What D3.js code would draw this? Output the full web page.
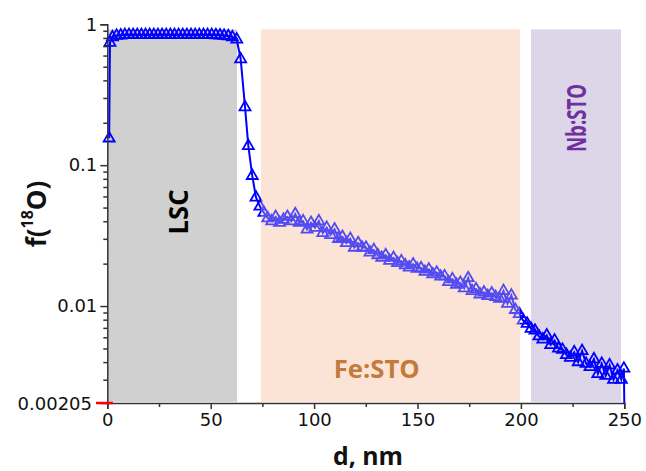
<!DOCTYPE html>
<html><head><meta charset="utf-8">
<script src="https://cdn.jsdelivr.net/npm/d3@7"></script>
<style>body{margin:0;background:#fff}</style>
</head><body><svg id="c" width="646" height="471"></svg>
<script>
const depth = [0.9,1.3,2.5,4.5,6.5,8.5,10.5,12.5,14.5,16.5,18.5,20.5,22.5,24.5,26.5,28.5,30.5,32.5,34.5,36.5,38.5,40.5,42.5,44.5,46.5,48.5,50.5,52.5,54.5,56.5,58.5,60.5,62.6,64.5,66.6,68.2,70.1,71.9,
73.8,75.7,77.6,79.5,81.4,83.3,85.2,87.1,89.0,90.9,92.8,94.7,96.6,98.5,100.4,102.3,104.2,106.1,108.0,109.9,111.8,113.7,115.6,117.5,119.4,121.3,123.2,125.1,127.0,128.9,130.8,132.7,134.6,136.5,138.4,140.3,142.2,144.1,146.0,147.9,149.8,151.7,153.6,155.5,157.4,159.3,161.2,163.1,165.0,166.9,168.8,170.7,172.6,174.5,176.4,178.3,180.2,182.1,184.0,185.9,187.8,189.7,191.6,193.5,195.4,197.3,199.2,
201.1,203.0,204.9,206.8,208.7,210.6,212.5,214.4,216.3,218.2,220.1,222.0,223.9,225.8,227.7,229.6,231.5,233.4,235.3,237.2,239.1,241.0,242.9,244.8,246.7,248.6,249.8,250.0];
const f18O = [0.155,0.74,0.81,0.83,0.835,0.84,0.84,0.84,0.84,0.84,0.84,0.84,0.84,0.84,0.84,0.84,0.84,0.84,0.84,0.84,0.84,0.84,0.84,0.84,0.84,0.84,0.84,0.838,0.835,0.83,0.825,0.81,0.78,0.565,0.258,0.137,0.084,0.059,
0.051,0.046,0.042,0.040,0.043,0.039,0.041,0.043,0.040,0.045,0.039,0.040,0.035,0.039,0.036,0.040,0.033,0.036,0.032,0.035,0.030,0.031,0.028,0.030,0.026,0.028,0.026,0.026,0.024,0.025,0.023,0.022,0.023,0.021,0.022,0.0202,0.0208,0.0195,0.0188,0.0198,0.0184,0.0186,0.0175,0.0182,0.0168,0.0173,0.0162,0.0163,0.0148,0.0155,0.0142,0.0146,0.0134,0.0158,0.0128,0.0132,0.0121,0.0125,0.0118,0.0123,0.0116,0.0113,0.0128,0.0104,0.0119,0.0094,0.0088,
0.0079,0.0075,0.0069,0.0067,0.0061,0.0058,0.0062,0.0053,0.0057,0.0050,0.0049,0.0045,0.0043,0.0047,0.0040,0.0048,0.0039,0.0037,0.0042,0.0033,0.0039,0.0032,0.0038,0.0030,0.0035,0.0030,0.0036,0.00205];
const xTicks = [0,50,100,150,200,250];
const xMinorTicks = [25,75,125,175,225];
const yTicks = [1,0.1,0.01];
const yTickLabels = ["1","0.1","0.01"];
const yMinorTicks = [0.003,0.004,0.005,0.006,0.007,0.008,0.009,0.02,0.03,0.04,0.05,0.06,0.07,0.08,0.09,0.2,0.3,0.4,0.5,0.6,0.7,0.8,0.9];
const yDomain = [0.00205, 1];
const yMinLabel = "0.00205";
const xDomain = [0, 250];
const layerNames = ["LSC","Fe:STO","Nb:STO"];
const layerStart = [0.3, 74.3, 204.9];
const layerEnd = [62.7, 199.6, 248.4];
const layerTop = 0.92;
const layerBottom = 0.00209;
const layerColors = ["#d0d0d0","#fbe5d6","#ddd5e8"];
const layerTextColors = ["#000000","#c27b3c","#7030a0"];

const svg = d3.select("#c");
const x = d3.scaleLinear().domain(xDomain).range([107.3, 624.3]);
const y = d3.scaleLog().domain(yDomain).range([403, 24.3]);

layerNames.forEach((n,i)=>{
  svg.append("rect").attr("x", x(layerStart[i])).attr("width", x(layerEnd[i])-x(layerStart[i]))
    .attr("y", y(layerTop)).attr("height", y(layerBottom)-y(layerTop)).attr("fill", layerColors[i]);
});

const pts = depth.map((d,i)=>[d,f18O[i]]);
const line = d3.line().x(d=>x(d[0])).y(d=>y(d[1]));
svg.append("path").datum(pts).attr("d", line).attr("fill","none").attr("stroke","#0000ff").attr("stroke-width",2);
const tri = d3.symbol().type(d3.symbolTriangle).size(52);
svg.append("g").selectAll("path").data(pts.slice(0, pts.length-1)).join("path")
  .attr("d", tri).attr("transform", d=>`translate(${x(d[0])},${y(d[1])})`)
  .attr("fill","none").attr("stroke","#0000ff").attr("stroke-width",1.8);

svg.append("rect").attr("x", x(layerStart[1])).attr("width", x(layerEnd[1])-x(layerStart[1]))
  .attr("y", y(layerTop)).attr("height", y(layerBottom)-y(layerTop)).attr("fill", layerColors[1]).attr("opacity",0.33);

const lblFont = "Open Sans, Liberation Sans, sans-serif";
function boldText(sel, txt, size, len, col){
  return sel.attr("font-family",lblFont).attr("font-weight","bold").attr("font-size",size)
    .attr("fill",col).attr("textLength",len).attr("lengthAdjust","spacingAndGlyphs").text(txt);
}
boldText(svg.append("text").attr("transform",`translate(${x(34)},212) rotate(-90)`).attr("text-anchor","middle")
  .attr("dominant-baseline","central"), layerNames[0], 27, 45, layerTextColors[0]);
boldText(svg.append("text").attr("x", x(130.3)).attr("y",378).attr("text-anchor","middle"),
  layerNames[1], 25, 86, layerTextColors[1]);
boldText(svg.append("text").attr("transform",`translate(${x(226.5)},118) rotate(-90)`).attr("text-anchor","middle")
  .attr("dominant-baseline","central"), layerNames[2], 26, 68, layerTextColors[2]);

const axCol = "#333";
const tickFont = "DejaVu Sans, sans-serif";
const gx = svg.append("g").attr("transform","translate(0,403)");
gx.call(d3.axisBottom(x).tickValues(xTicks).tickSize(6).tickPadding(4).tickFormat(d3.format("d")));
const gxm = svg.append("g").attr("transform","translate(0,403)");
gxm.call(d3.axisBottom(x).tickValues(xMinorTicks).tickSize(4).tickFormat(""));
gxm.select(".domain").remove();
gx.selectAll("text").attr("font-size",18).attr("font-family",tickFont).attr("fill","#111");

const gy = svg.append("g").attr("transform","translate(107.3,0)");
gy.call(d3.axisLeft(y).tickValues(yTicks).tickSize(7).tickPadding(3).tickFormat((d,i)=>yTickLabels[i]));
const gym = svg.append("g").attr("transform","translate(107.3,0)");
gym.call(d3.axisLeft(y).tickValues(yMinorTicks).tickSize(4).tickFormat(""));
gym.select(".domain").remove();
gy.selectAll("text").attr("font-size",18).attr("font-family",tickFont).attr("fill","#111");
svg.selectAll(".domain, .tick line").attr("stroke",axCol).attr("stroke-width",1.5);
svg.append("text").attr("x",92).attr("y",y(yDomain[0])).attr("text-anchor","end").attr("dominant-baseline","central")
  .attr("font-size",18).attr("font-family",tickFont).attr("fill","#111").text(yMinLabel);
svg.append("line").attr("x1",96).attr("x2",113).attr("y1",y(yDomain[0])).attr("y2",y(yDomain[0]))
  .attr("stroke","#ff0000").attr("stroke-width",2.5);

boldText(svg.append("text").attr("x",368).attr("y",465).attr("text-anchor","middle"), "d, nm", 25, 70, "#111");
const yt = svg.append("text").attr("transform","translate(36,214) rotate(-90)").attr("text-anchor","middle")
  .attr("dominant-baseline","central").attr("font-family",lblFont).attr("font-weight","bold").attr("font-size",26).attr("fill","#111");
yt.append("tspan").text("f(");
yt.append("tspan").attr("font-size",16).attr("dy",-9).text("18");
yt.append("tspan").attr("dy",9).text("O)");
</script></body></html>
